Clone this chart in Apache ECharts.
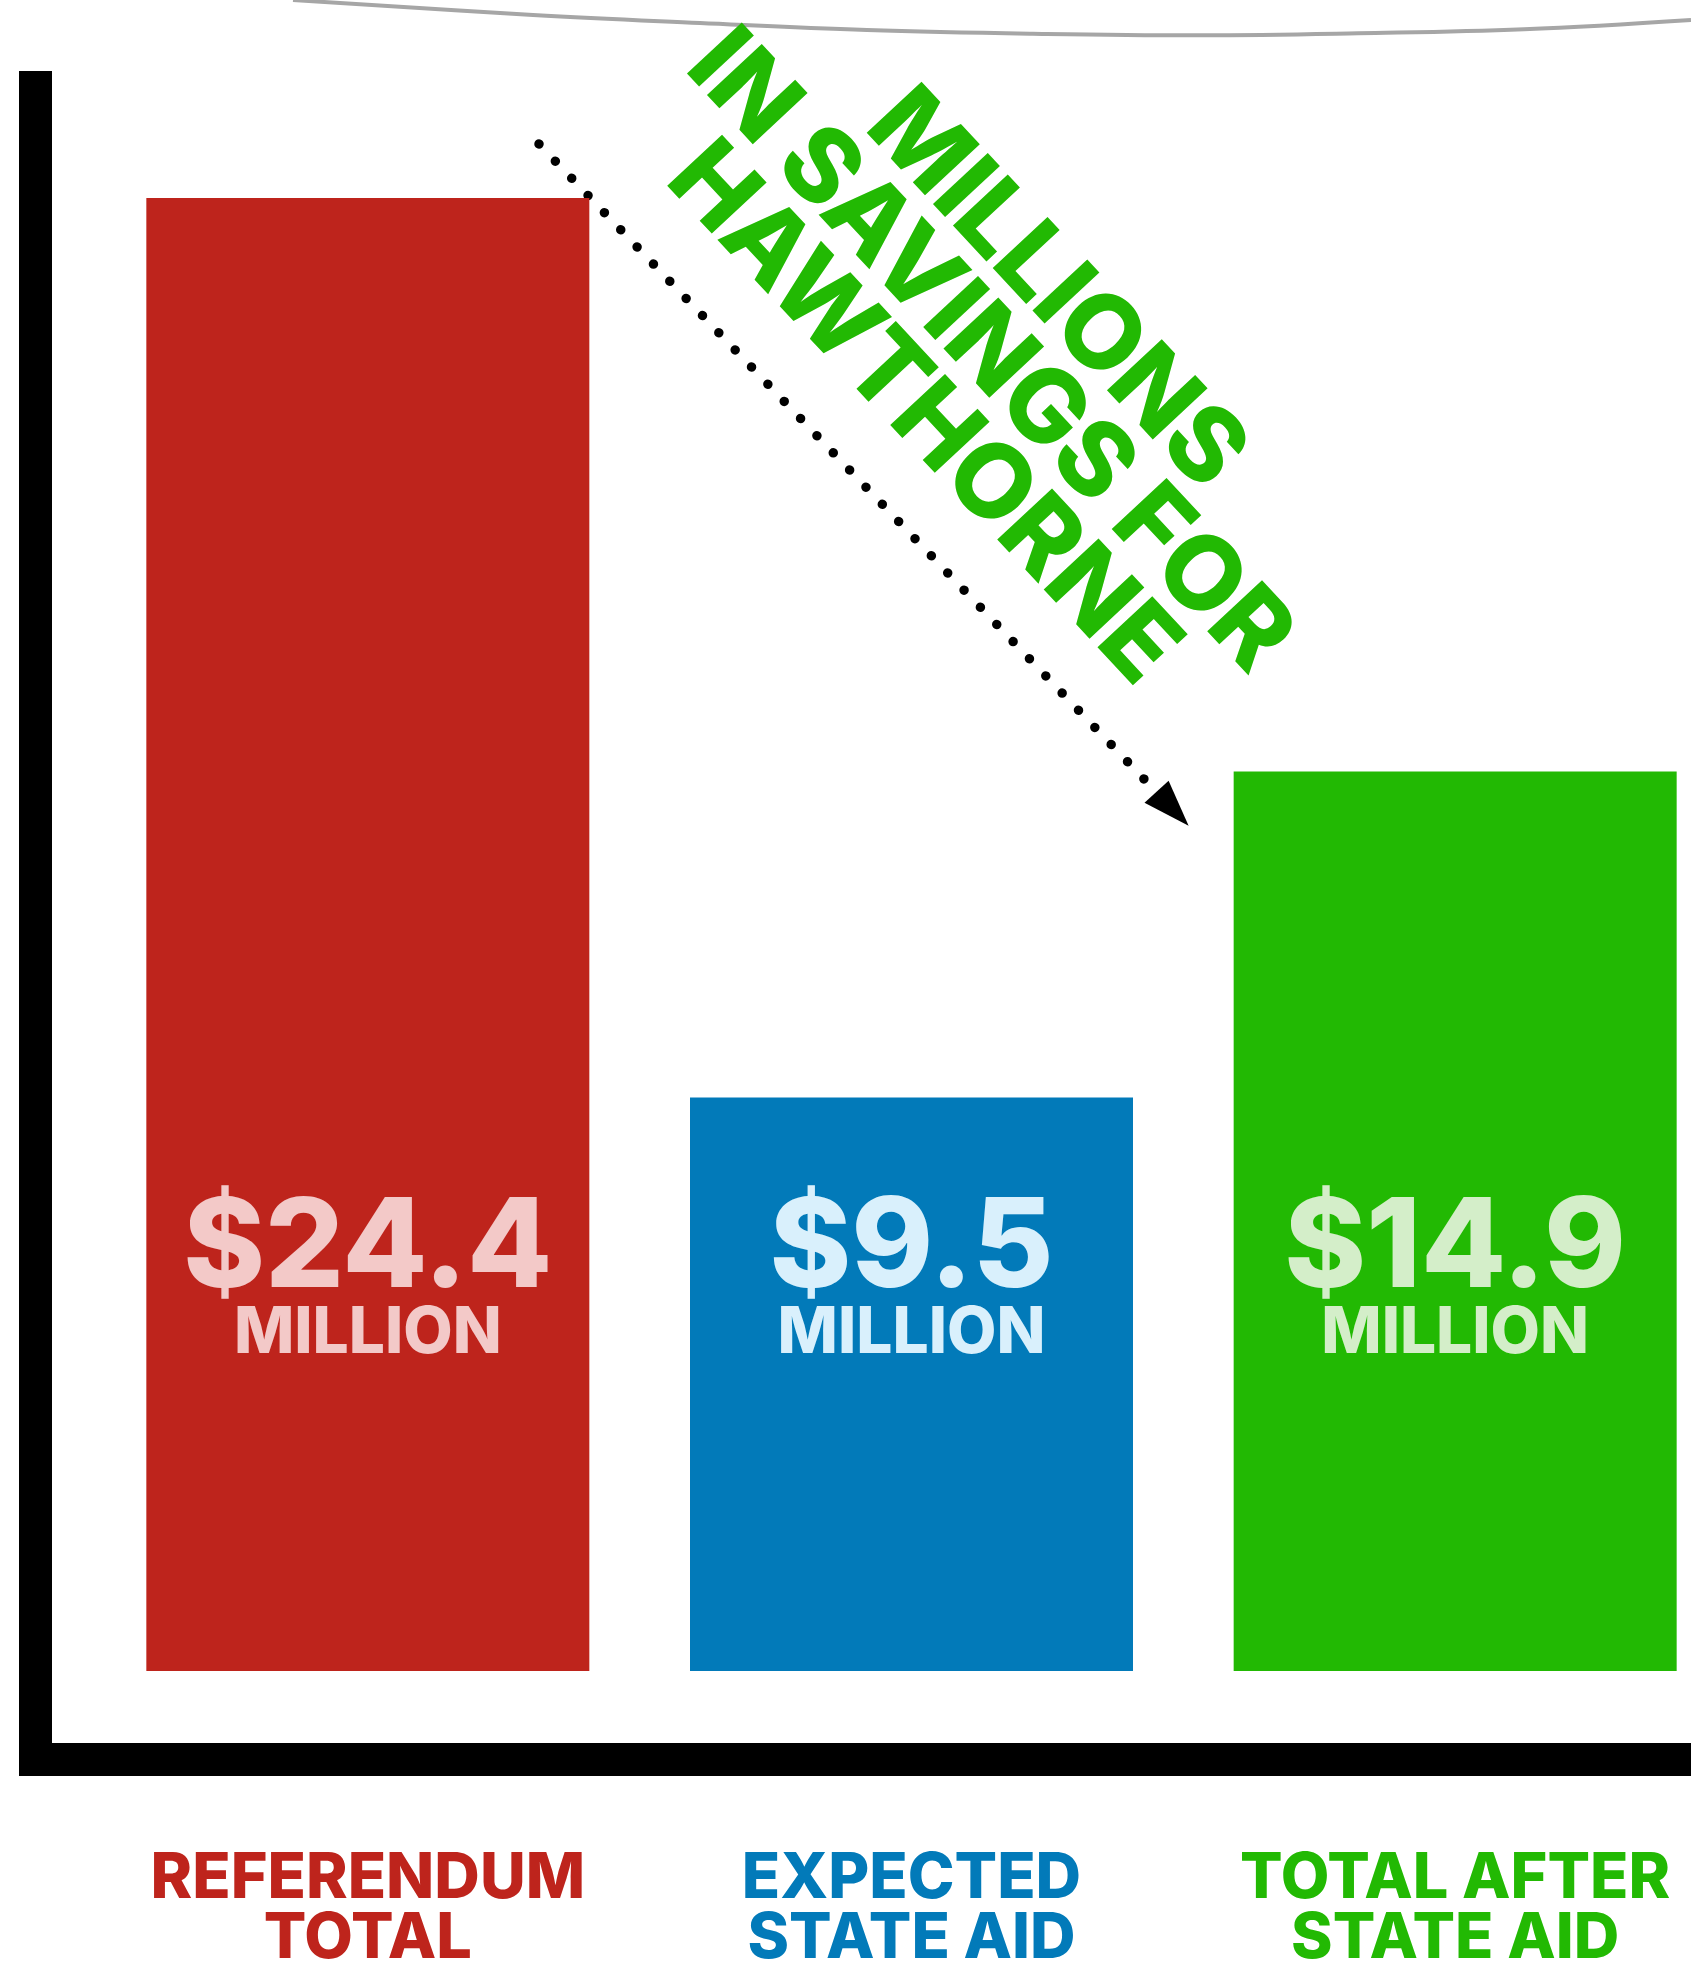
<!DOCTYPE html>
<html><head><meta charset="utf-8">
<script src="https://cdn.jsdelivr.net/npm/echarts@6/dist/echarts.min.js"></script>
<style>html,body{margin:0;padding:0;background:#fff}#c{width:1691px;height:1963px}</style>
</head><body><div id="c"></div>
<script>
const categories = ['REFERENDUM\nTOTAL', 'EXPECTED\nSTATE AID', 'TOTAL AFTER\nSTATE AID'];
const values = [24.4, 9.5, 14.9];
const valueLabels = ['$24.4', '$9.5', '$14.9'];
const unitLabel = 'MILLION';
const annotationLines = ['MILLIONS', 'IN SAVINGS FOR', 'HAWTHORNE'];
const barColors = ['#BE241C', '#027AB9', '#22B903'];
const labelColors = ['#F3C9C8', '#D9F0FC', '#D4EEC9'];
const curvePoints = [[293,0],[533,15],[700,23],[867,30],[1033,33.7],[1200,35.3],[1358,33.3],[1524,29.3],[1691,20]];

const FONT = 'Inter, Lato, sans-serif';
const W = 800;
const chart = echarts.init(document.getElementById('c'), null, {renderer: 'canvas'});

const barData = values.map((v, i) => ({
  value: v,
  itemStyle: {color: barColors[i]},
  label: {
    show: true,
    position: 'insideBottom',
    distance: 307,
    formatter: '{v|' + valueLabels[i] + '}\n{m|' + unitLabel + '}',
    rich: {
      v: {fontSize: 124, fontWeight: W, fontFamily: FONT, lineHeight: 109, color: labelColors[i], align: 'center'},
      m: {fontSize: 64, fontWeight: W, fontFamily: FONT, lineHeight: 60, color: labelColors[i], align: 'center'}
    }
  }
}));

chart.setOption({
  animation: false,
  backgroundColor: '#fff',
  grid: {left: 96, right: -36, top: 198, bottom: 292, containLabel: false, outerBoundsMode: 'none'},
  xAxis: {
    type: 'category',
    data: categories.map((c, i) => ({value: c, textStyle: {color: barColors[i]}})),
    axisLine: {show: false},
    axisTick: {show: false},
    splitLine: {show: false},
    axisLabel: {interval: 0, margin: 178, fontSize: 63, fontWeight: W, fontFamily: FONT, lineHeight: 60}
  },
  yAxis: {type: 'value', min: 0, max: 24.4, show: false, splitLine: {show: false}},
  series: [{type: 'bar', barWidth: 443, data: barData}],
  graphic: [
    {type: 'rect', shape: {x: 19, y: 71, width: 33, height: 1705}, style: {fill: '#000'}},
    {type: 'rect', shape: {x: 19, y: 1743, width: 1672, height: 33}, style: {fill: '#000'}},
    {type: 'polyline', shape: {points: curvePoints, smooth: 0.4}, style: {stroke: '#a6a6a6', lineWidth: 4, fill: null}},
    {type: 'line', shape: {x1: 539, y1: 144, x2: 1144, y2: 779}, style: {stroke: '#000', lineWidth: 9.5, lineDash: [0.01, 23.69], lineCap: 'round'}},
    {type: 'polygon', shape: {points: [[1144.5, 802.7], [1168.6, 780.7], [1188.6, 825.7]]}, style: {fill: '#000'}},
    {type: 'text', x: 989, y: 352, rotation: -47 * Math.PI / 180,
      style: {text: annotationLines.join('\n'), fill: '#22B903', fontSize: 103, fontWeight: W, fontFamily: FONT,
        align: 'center', verticalAlign: 'middle', lineHeight: 91}}
  ]
});
</script></body></html>
